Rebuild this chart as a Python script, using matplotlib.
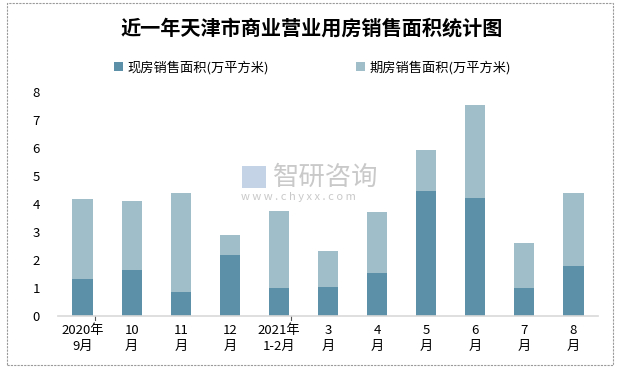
import matplotlib.pyplot as plt
import matplotlib.patches as patches

plt.rcParams['font.family'] = ['Noto Sans CJK SC', 'DejaVu Sans']

# data (万平方米)
months = ["2020年\n9月", "10\n月", "11\n月", "12\n月", "2021年\n1-2月", "3\n月",
          "4\n月", "5\n月", "6\n月", "7\n月", "8\n月"]
existing = [1.32, 1.64, 0.86, 2.17, 1.00, 1.03, 1.54, 4.46, 4.21, 1.00, 1.78]
presale = [2.85, 2.46, 3.52, 0.72, 2.74, 1.29, 2.17, 1.46, 3.31, 1.60, 2.60]

dark = "#5c90a8"
light = "#a0bdca"

fig = plt.figure(figsize=(6.21, 3.69), dpi=100)
ax = fig.add_axes([0.0934, 0.1436, 0.8696, 0.6079])

x = list(range(len(months)))
ax.bar(x, existing, width=0.41, color=dark, label="现房销售面积(万平方米)", zorder=2)
ax.bar(x, presale, width=0.41, bottom=existing, color=light,
       label="期房销售面积(万平方米)", zorder=2)

ax.set_xlim(-0.5, len(months) - 0.5)
ax.set_ylim(0, 8)
ax.set_yticks(range(0, 9))
ax.set_xticks(x)
ax.set_xticklabels(months, fontsize=9.5, linespacing=1.25)
ax.tick_params(axis='y', length=0, pad=13, labelsize=9.5)
ax.tick_params(axis='x', length=0, pad=6)

for side in ["top", "right", "left"]:
    ax.spines[side].set_visible(False)
ax.spines["bottom"].set_color("#d9d9d9")
ax.spines["bottom"].set_linewidth(1.2)

# small group separators under the axis
for pos in [0.255, 4.255]:
    ax.plot([pos, pos], [0, -0.15], color="#555555", lw=0.8, clip_on=False)

fig.text(0.502, 0.925, "近一年天津市商业营业用房销售面积统计图", ha="center", va="center",
         fontsize=14.5, fontweight="bold")

fig.legend(loc="center", bbox_to_anchor=(0.503, 0.818), ncol=2, frameon=False,
           fontsize=9.5, handlelength=0.7, handleheight=0.7, handletextpad=0.3,
           columnspacing=6.6)

# watermark
fig.text(0.44, 0.52, "智研咨询", fontsize=19, color="#c9c9c9", ha="left", va="center")
fig.text(0.388, 0.465, "w w w . c h y x x . c o m", fontsize=8, color="#c9c9c9",
         ha="left", va="center")
fig.patches.append(patches.Rectangle((0.39, 0.49), 0.038, 0.06, transform=fig.transFigure,
                                     facecolor="#c5d3e6", edgecolor="none"))

# dashed outer border
fig.patches.append(patches.Rectangle((7 / 621, 4 / 369), 606 / 621, 362 / 369,
                                     transform=fig.transFigure, fill=False,
                                     edgecolor="#9a9a9a", linestyle=(0, (2, 1)), lw=0.8))

fig.savefig("out.png", dpi=100)
